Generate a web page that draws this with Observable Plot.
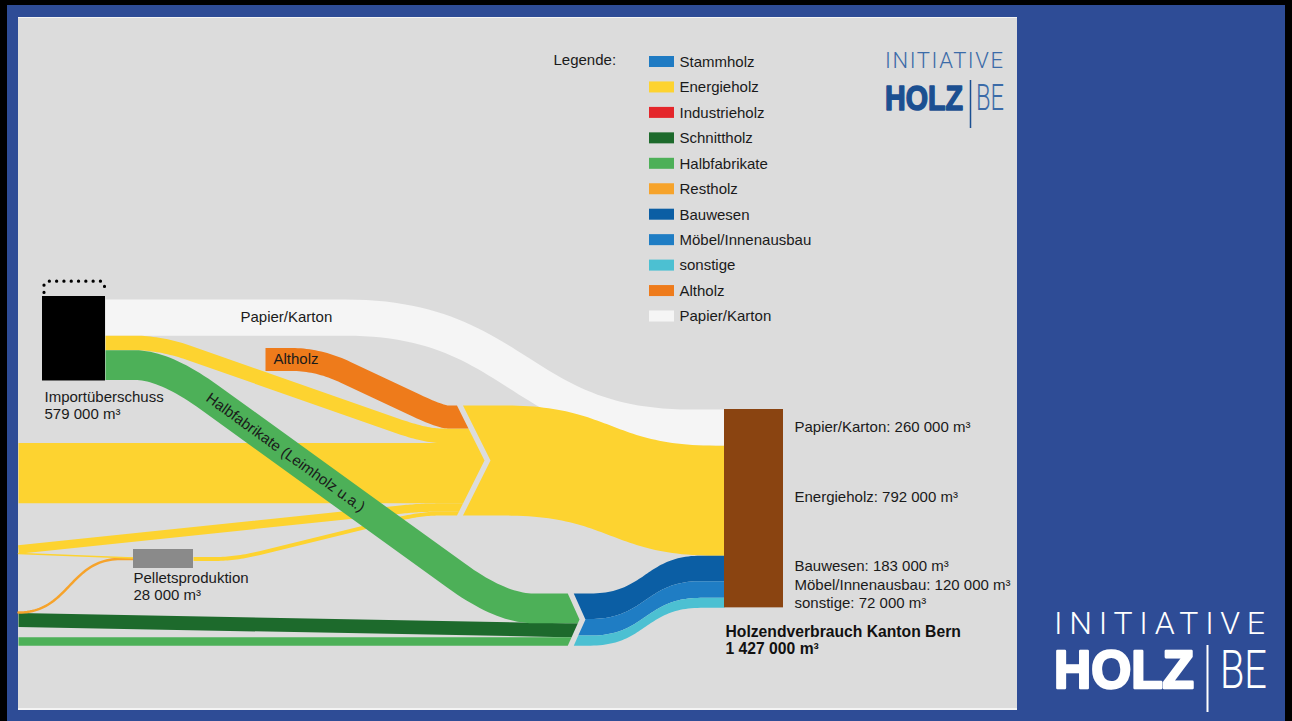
<!DOCTYPE html>
<html><head><meta charset="utf-8">
<script src="https://cdn.jsdelivr.net/npm/d3@7"></script>
<script src="https://cdn.jsdelivr.net/npm/@observablehq/plot@0.6"></script>
<style>
html,body{margin:0;padding:0;}
body{width:1292px;height:721px;background:#2e4c96;position:relative;overflow:hidden;font-family:"Liberation Sans",Arial,sans-serif;}
.blk{position:absolute;background:#000}
#topline{position:absolute;left:18px;top:17px;width:999px;height:1px;background:#f4f4f4}
#botline{position:absolute;left:18px;top:708px;width:999px;height:2px;background:#f4f4f4}
#panel{position:absolute;left:18px;top:18px;width:999px;height:690px;background:#dcdcdc;}
#logo{position:absolute;left:0;top:0;}
</style></head>
<body>
<div class="blk" style="left:0;top:0;width:7px;height:721px"></div>
<div class="blk" style="left:0;top:0;width:1292px;height:5px"></div>
<div class="blk" style="left:1285px;top:0;width:7px;height:721px"></div>
<div id="topline"></div><div id="panel"></div><div id="botline"></div>
<svg id="logo" width="1292" height="721"></svg>
<script>
// ---------------- DATA ----------------
const legendCategories = ["Stammholz","Energieholz","Industrieholz","Schnittholz","Halbfabrikate","Restholz","Bauwesen","Möbel/Innenausbau","sonstige","Altholz","Papier/Karton"];
const legendColors = ["#1f7bc3","#fdd330","#e4262b","#1d6a2c","#4db058","#f6a32b","#0b5ea4","#1f7dc4","#4cc0d2","#ee7b1b","#f5f5f5"];

const endUses = ["Papier/Karton","Energieholz","Bauwesen","Möbel/Innenausbau","sonstige"];
const endUseValues = [260000, 792000, 183000, 120000, 72000];
const totalConsumption = 1427000;

const importLabel = "Importüberschuss";
const importSurplus = 579000;
const importSplit = ["Papier/Karton","Energieholz","Halbfabrikate"];
const importSplitValues = [260000, 105000, 214000];

const energyInflows = ["Altholz","Energieholz Import","Energieholz Inland","Energieholz Inland 2","Pellets"];
const energyInflowValues = [165000, 105000, 434000, 60000, 28000];

const pelletsLabel = "Pelletsproduktion";
const pelletsProduction = 28000;

const productInflows = ["Halbfabrikate (Leimholz u.a.)","Schnittholz","Halbfabrikate"];
const productInflowValues = [214000, 100000, 61000];

// ---------------- LAYOUT & STYLE ----------------
const K = 0.139 / 1000;           // px per m³
const W = v => v * K;
const L = {
  importNode: {x: 42, y: 296, w: 63},
  consumption: {x: 724, y: 409, w: 59},
  pellets: {x: 133, y: 549, w: 60, h: 19},
  energy: {top: 405, tip: 484, notch: 490, slope: 0.5},
  product: {top: 593, tip: 579, notch: 585, slope: 0.45},
  altholzStart: {x: 265, y: 359},
};
const C = {
  white: "#f5f5f5", yellow: "#fdd330", altholz: "#ee7b1b", green: "#4db058", dgreen: "#1d6a2c",
  rest: "#f6a32b", blues: ["#0b5ea4", "#1f7dc4", "#4cc0d2"], brown: "#8a4411", grey: "#8a8a8a", text: "#1a1a1a"
};
const fmt = v => d3.format(",")(v).replace(/,/g, " ") + " m³";

function stack(values, top) {
  let y = top;
  return values.map(v => { const s = {y0: y, w: W(v), c: y + W(v) / 2}; y += W(v); s.y1 = y; return s; });
}
const impSlots = stack(importSplitValues, L.importNode.y + 3);
const enSlots = stack(energyInflowValues, L.energy.top);
const prSlots = stack(productInflowValues, L.product.top);
const coSlots = stack(endUseValues, L.consumption.y);
const blSlots = stack(endUseValues.slice(2), L.product.top);
const enTotal = d3.sum(energyInflowValues), prTotal = d3.sum(productInflowValues);
const enTip = {x: L.energy.tip, y: L.energy.top + W(enTotal) / 2, s: L.energy.slope};
const enNotch = {x: L.energy.notch, y: enTip.y, s: L.energy.slope};
const prTip = {x: L.product.tip, y: L.product.top + W(prTotal) / 2, s: L.product.slope};
const prNotch = {x: L.product.notch, y: prTip.y, s: L.product.slope};

// ---------------- GEOMETRY HELPERS ----------------
function bez(p0, p1, p2, p3, n) {
  const o = [];
  for (let i = 0; i <= n; i++) {
    const t = i / n, u = 1 - t;
    o.push([u*u*u*p0[0] + 3*u*u*t*p1[0] + 3*u*t*t*p2[0] + t*t*t*p3[0],
            u*u*u*p0[1] + 3*u*u*t*p1[1] + 3*u*t*t*p2[1] + t*t*t*p3[1]]);
  }
  return o;
}
function bumpPath(pts, n = 50) {
  const o = [pts[0]];
  for (let i = 1; i < pts.length; i++) {
    const a = pts[i-1], b = pts[i];
    if (a[1] === b[1]) { o.push(b); continue; }
    const m = (a[0] + b[0]) / 2;
    o.push(...bez(a, [m, a[1]], [m, b[1]], b, n).slice(1));
  }
  return o;
}
function roundPath(pts, r, n = 20) {
  const o = [pts[0]];
  for (let i = 1; i < pts.length - 1; i++) {
    const a = pts[i-1], p = pts[i], b = pts[i+1];
    const da = Math.hypot(a[0]-p[0], a[1]-p[1]), db = Math.hypot(b[0]-p[0], b[1]-p[1]);
    const ra = Math.min(r, da/2), rb = Math.min(r, db/2);
    const s = [p[0] + (a[0]-p[0])*ra/da, p[1] + (a[1]-p[1])*ra/da];
    const e = [p[0] + (b[0]-p[0])*rb/db, p[1] + (b[1]-p[1])*rb/db];
    for (let j = 0; j <= n; j++) {
      const t = j / n, u = 1 - t;
      o.push([u*u*s[0] + 2*u*t*p[0] + t*t*e[0], u*u*s[1] + 2*u*t*p[1] + t*t*e[1]]);
    }
  }
  o.push(pts[pts.length-1]);
  return o;
}
const chev = (c, y) => c.x - c.s * Math.abs(y - c.y);
function band(center, w, mode, endC, startC) {
  const N = center.length, top = [], bot = [], h = w / 2;
  for (let i = 0; i < N; i++) {
    const p = center[Math.max(i-1, 0)], q = center[Math.min(i+1, N-1)];
    let dx = q[0]-p[0], dy = q[1]-p[1]; const len = Math.hypot(dx, dy) || 1; dx /= len; dy /= len;
    const n = mode === "vert" ? [0, -1] : [dy, -dx];
    const c = center[i];
    top.push([c[0] + n[0]*h, c[1] + n[1]*h]);
    bot.push([c[0] - n[0]*h, c[1] - n[1]*h]);
  }
  const poly = [...top];
  if (endC) {
    const yT = top[N-1][1], yB = bot[N-1][1];
    poly.push([chev(endC, yT), yT]);
    if (yT < endC.y && endC.y < yB) poly.push([endC.x, endC.y]);
    poly.push([chev(endC, yB), yB]);
  }
  poly.push(...bot.slice().reverse());
  if (startC) {
    const yT = top[0][1], yB = bot[0][1];
    poly.push([chev(startC, yB), yB]);
    if (yT < startC.y && startC.y < yB) poly.push([startC.x, startC.y]);
    poly.push([chev(startC, yT), yT]);
  }
  return poly;
}

// ---------------- FLOWS ----------------
const polys = [];
const add = (pts, fill) => polys.push({pts, fill});
const xImp = L.importNode.x + L.importNode.w, xCo = L.consumption.x, xEnd = 455, xPr = 565;
// Papier/Karton
add(band(bumpPath([[xImp, impSlots[0].c], [345, impSlots[0].c], [690, coSlots[0].c], [xCo, coSlots[0].c]]), impSlots[0].w, "perp"), C.white);
// Energieholz from import
add(band(roundPath([[xImp, impSlots[1].c], [160, impSlots[1].c], [425, enSlots[1].c], [xEnd, enSlots[1].c]], 30), impSlots[1].w, "perp", enTip), C.yellow);
// Altholz
add(band(roundPath([[L.altholzStart.x, L.altholzStart.y], [318, L.altholzStart.y], [440, enSlots[0].c], [xEnd, enSlots[0].c]], 30), enSlots[0].w, "perp", enTip), C.altholz);
// big Energieholz
add(band([[18, enSlots[2].c], [xEnd, enSlots[2].c]], enSlots[2].w, "vert", enTip), C.yellow);
// lower Energieholz
add(band(roundPath([[18, 549], [420, enSlots[3].c], [xEnd, enSlots[3].c]], 20), enSlots[3].w, "perp", enTip), C.yellow);
// from pellets
const pc = L.pellets.y + L.pellets.h / 2;
add(band(roundPath([[L.pellets.x + L.pellets.w, pc], [235, pc], [420, enSlots[4].c], [xEnd, enSlots[4].c]], 25), enSlots[4].w, "perp", enTip), C.yellow);
// merged Energieholz to consumption
add(band(bumpPath([[enNotch.x + 2, enNotch.y], [505, enNotch.y], [715, coSlots[1].c], [xCo, coSlots[1].c]]), coSlots[1].w, "vert", null, enNotch), C.yellow);
// Schnittholz
add(band([[18, 619.5], [xPr, prSlots[1].c]], prSlots[1].w, "vert", prTip), C.dgreen);
// lower Halbfabrikate
add(band([[18, prSlots[2].c], [xPr, prSlots[2].c]], prSlots[2].w, "vert", prTip), C.green);
// Halbfabrikate from import
add(band(roundPath([[xImp, impSlots[2].c], [164, impSlots[2].c], [501, prSlots[0].c], [xPr, prSlots[0].c]], 55), impSlots[2].w, "perp", prTip), C.green);
// Bauwesen / Möbel / sonstige
blSlots.forEach((s, j) => {
  add(band(bumpPath([[prNotch.x + 2, s.c], [590, s.c], [700, coSlots[j+2].c], [xCo, coSlots[j+2].c]]), s.w, "vert", null, prNotch), C.blues[j]);
});

const lineMarks = polys.map(p => Plot.line(p.pts, {x: d => d[0], y: d => d[1], fill: p.fill, stroke: "none", curve: "linear-closed"}));

// thin inputs into pellets
const restholzLine = bumpPath([[18, 612], [120, pc], [L.pellets.x, pc]]);
const pelletYellowLine = [[18, 553], [L.pellets.x, pc - 1]];
const dotted = [[43.5, 292], [43.5, 284], [47, 280.7], [100.5, 280.7], [104, 284], [104, 292]];

const fs = 15;
const textOpts = {fontSize: fs, fill: C.text, textAnchor: "start", fontFamily: "Liberation Sans, Arial, sans-serif"};

const legendRowY = i => 61.5 + i * 25.45;

const chart = Plot.plot({
  width: 999, height: 690, margin: 0,
  x: {domain: [18, 1017], range: [0, 999], axis: null},
  y: {domain: [18, 708], range: [0, 690], axis: null},
  style: {background: "transparent", overflow: "visible"},
  marks: [
    ...lineMarks,
    Plot.line(restholzLine, {x: d => d[0], y: d => d[1], stroke: C.rest, strokeWidth: 2.5, curve: "linear"}),
    Plot.line(pelletYellowLine, {x: d => d[0], y: d => d[1], stroke: C.yellow, strokeWidth: 1.5}),
    Plot.line(dotted, {x: d => d[0], y: d => d[1], stroke: "#000", strokeWidth: 3.2, strokeDasharray: "0.1,7.2", strokeLinecap: "round", curve: "linear"}),
    // nodes
    Plot.rect([importSurplus], {x1: () => L.importNode.x, x2: () => L.importNode.x + L.importNode.w, y1: () => L.importNode.y, y2: d => L.importNode.y + W(d) + 4, fill: "#000"}),
    Plot.rect([totalConsumption], {x1: () => L.consumption.x, x2: () => L.consumption.x + L.consumption.w, y1: () => L.consumption.y, y2: d => L.consumption.y + W(d), fill: C.brown}),
    Plot.rect([pelletsProduction], {x1: () => L.pellets.x, x2: () => L.pellets.x + L.pellets.w, y1: () => L.pellets.y, y2: () => L.pellets.y + L.pellets.h, fill: C.grey}),
    // labels
    Plot.text([importLabel, fmt(importSurplus)], {x: () => 44, y: (d, i) => 397 + i * 16.5, text: d => d, ...textOpts}),
    Plot.text([pelletsLabel, fmt(pelletsProduction)], {x: () => 133, y: (d, i) => 578 + i * 16.5, text: d => d, ...textOpts}),
    Plot.text([importSplit[0]], {x: () => 240, y: () => impSlots[0].c, text: d => d, ...textOpts}),
    Plot.text([energyInflows[0]], {x: () => 273, y: () => L.altholzStart.y, text: d => d, ...textOpts}),
    Plot.text([productInflows[0]], {x: () => 285, y: () => 452, text: d => d, ...textOpts, textAnchor: "middle", rotate: 35.8}),
    Plot.text(endUses, {x: () => 794, y: (d, i) => [427, 497, 566, 584.5, 603][i], text: (d, i) => `${d}: ${fmt(endUseValues[i])}`, ...textOpts}),
    Plot.text(["Holzendverbrauch Kanton Bern", fmt(totalConsumption)], {x: () => 725, y: (d, i) => 631 + i * 17, text: d => d, ...textOpts, fontSize: 15.7, fontWeight: "bold", fill: "#111"}),
    // legend
    Plot.text(["Legende:"], {x: () => 553, y: () => 59.5, text: d => d, ...textOpts}),
    Plot.rect(legendCategories, {x1: () => 649, x2: () => 674, y1: (d, i) => legendRowY(i) - 5.5, y2: (d, i) => legendRowY(i) + 5.5, fill: (d, i) => legendColors[i]}),
    Plot.text(legendCategories, {x: () => 679, y: (d, i) => legendRowY(i), text: d => d, ...textOpts})
  ]
});
document.getElementById("panel").appendChild(chart);

// ---------------- LOGOS ----------------
const svg = d3.select("#logo");
function fitText(g, str, x, y, w, attrs) {
  const t = g.append("text").attr("x", 0).attr("y", 0).text(str);
  for (const k in attrs) t.attr(k, attrs[k]);
  const w0 = t.node().getComputedTextLength() || w;
  t.attr("transform", `translate(${x},${y}) scale(${w / w0},1)`);
  return t;
}
function logo(g, o) {
  g.append("text").attr("x", o.x).attr("y", o.y1).attr("font-family", "Roboto, 'Open Sans', sans-serif").attr("font-weight", 300)
    .attr("font-size", o.f1).attr("fill", o.c1).attr("textLength", o.w1).attr("lengthAdjust", "spacing").text("INITIATIVE");
  fitText(g, "HOLZ", o.x, o.y2, o.w2, {"font-family": "'Liberation Sans', Arial, sans-serif", "font-weight": 700, "font-size": o.f2,
    fill: o.c2, stroke: o.c2, "stroke-width": o.sw, "stroke-linejoin": "round"});
  g.append("line").attr("x1", o.bx).attr("x2", o.bx).attr("y1", o.by1).attr("y2", o.by2).attr("stroke", o.c2).attr("stroke-width", o.bw);
  fitText(g, "BE", o.bx + o.gap, o.y2, o.w3, {"font-family": "Roboto, 'Open Sans', sans-serif", "font-weight": 300, "font-size": o.f2, fill: o.c1});
}
logo(svg.append("g"), {x: 1054, y1: 634, f1: 32, w1: 211, y2: 688, f2: 53, w2: 140, sw: 2.6, bx: 1207.5, by1: 645, by2: 712, bw: 2, gap: 12.5, w3: 47, c1: "#fff", c2: "#fff"});
logo(svg.append("g"), {x: 885, y1: 68, f1: 22, w1: 118, y2: 110, f2: 36, w2: 78, sw: 1.6, bx: 970.5, by1: 80, by2: 128, bw: 1.5, gap: 5.5, w3: 28, c1: "#3b6ba8", c2: "#1b4f91"});
</script>
</body></html>
